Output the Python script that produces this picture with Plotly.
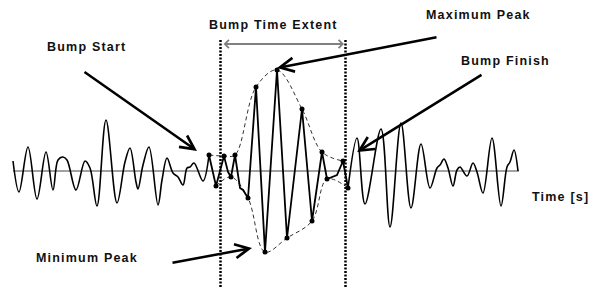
import plotly.graph_objects as go

# ---- data (sample index, amplitude) ----
left_t = [13, 19, 28, 37, 46, 53, 58, 63, 67, 76, 85, 90, 97, 106, 117, 125, 130, 136, 138, 143,
          149, 158, 162, 167, 173, 178, 183, 187, 190, 194, 203, 209]
left_a = [10, -21, 24, -28, 19, -19, 11, 14, 11, -19, 10, 3, -35, 51, -32, 9, 23, -11, -18, 6,
          24, -34, -9, 13, -2, -6, -14, 3, 4, 8, -10, 16]

bump_t = [209, 216, 224, 228, 231, 235, 240, 243, 248, 256, 265, 277, 287, 302, 312, 322, 327, 337, 343, 348]
bump_a = [16, -15, 15, -1, -6, 16, -17, -19, -27, 84, -81, 101, -67, 62, -50, 19, -8, -4, 10, -17]

right_t = [348, 357, 365, 381, 390, 401, 411, 421, 430, 437, 440, 444, 448, 453, 457, 460, 467, 473,
           477, 483, 492, 501, 507, 510, 514, 518]
right_a = [-17, 33, -33, 42, -56, 48, -37, 27, -17, 3, 6, 12, 3, -15, 1, 4, -5, 8,
           -1, -22, 33, -35, 4, 9, 21, 0]

marker_t = [209, 216, 224, 231, 235, 248, 256, 265, 277, 287, 302, 312, 322, 327, 343, 348]
marker_a = [16, -15, 15, -6, 16, -27, 84, -81, 101, -67, 62, -50, 19, -8, 10, -17]

upper_env_t = [209, 224, 235, 256, 277, 302, 322, 343]
upper_env_a = [16, 15, 16, 84, 101, 62, 19, 10]
lower_env_t = [216, 231, 248, 265, 287, 312, 327, 348]
lower_env_a = [-15, -6, -27, -81, -67, -50, -8, -17]

axis_t = [13, 519]
bump_start_t = 220.5
bump_finish_t = 345.5

FONT = "Liberation Sans, Arial, sans-serif"

fig = go.Figure()

# time axis line
fig.add_trace(go.Scatter(x=axis_t, y=[0, 0], mode="lines",
                         line=dict(color="#444444", width=1.2), hoverinfo="skip"))

# envelopes
fig.add_trace(go.Scatter(x=upper_env_t, y=upper_env_a, mode="lines",
                         line=dict(color="#333333", width=1, dash="4px,3px", shape="spline"),
                         hoverinfo="skip"))
fig.add_trace(go.Scatter(x=lower_env_t, y=lower_env_a, mode="lines",
                         line=dict(color="#333333", width=1, dash="4px,3px", shape="spline"),
                         hoverinfo="skip"))

# waveform
fig.add_trace(go.Scatter(x=left_t, y=left_a, mode="lines",
                         line=dict(color="black", width=1.6, shape="spline", smoothing=1.0),
                         hoverinfo="skip"))
fig.add_trace(go.Scatter(x=bump_t, y=bump_a, mode="lines",
                         line=dict(color="black", width=1.8), hoverinfo="skip"))
fig.add_trace(go.Scatter(x=right_t, y=right_a, mode="lines",
                         line=dict(color="black", width=1.6, shape="spline", smoothing=1.0),
                         hoverinfo="skip"))

# peak markers
fig.add_trace(go.Scatter(x=marker_t, y=marker_a, mode="markers",
                         marker=dict(color="black", size=5), hoverinfo="skip"))

# dotted bump boundaries
for xv in (bump_start_t, bump_finish_t):
    fig.add_trace(go.Scatter(x=[xv, xv], y=[131, -117], mode="lines",
                             line=dict(color="black", width=2.5, dash="2px,1.5px"),
                             hoverinfo="skip"))

anns = []
# bump time extent arrow (double-headed, gray)
anns.append(dict(x=bump_finish_t - 1.5, y=127, ax=bump_start_t + 1.5, ay=127,
                 xref="x", yref="y", axref="x", ayref="y", text="",
                 showarrow=True, arrowhead=4, startarrowhead=4, arrowside="end+start",
                 arrowsize=0.8, startarrowsize=0.8, arrowwidth=2, arrowcolor="#808080"))

# pointer arrows (tip, tail)
arrows = [((197, 20), (83, 100)),
          ((277, 103), (438, 134)),
          ((357, 19), (483, 97)),
          ((252, -77), (171, -92))]
for (tx, ty), (sx, sy) in arrows:
    anns.append(dict(x=tx, y=ty, ax=sx, ay=sy, xref="x", yref="y", axref="x", ayref="y",
                     text="", showarrow=True, arrowhead=5, arrowsize=1.1,
                     arrowwidth=2.5, arrowcolor="black"))

labels = [("Bump Time Extent", 273, 146),
          ("Bump Start", 86, 124),
          ("Maximum Peak", 478, 156),
          ("Bump Finish", 505, 110),
          ("Minimum Peak", 87, -87),
          ("Time [s]", 560, -26)]
for txt, lx, ly in labels:
    anns.append(dict(x=lx, y=ly, xref="x", yref="y", showarrow=False,
                     text='<span style="letter-spacing:1.2px"><b>' + txt + '</b></span>',
                     font=dict(family=FONT, size=12.5, color="#111111"),
                     xanchor="center", yanchor="middle"))

fig.update_layout(
    width=593, height=288,
    margin=dict(l=0, r=0, t=0, b=0),
    paper_bgcolor="white", plot_bgcolor="white",
    showlegend=False,
    xaxis=dict(range=[0, 593], visible=False, fixedrange=True),
    yaxis=dict(range=[-117, 171], visible=False, fixedrange=True),
    annotations=anns,
)

fig.write_html("out.html", config={"displayModeBar": False},
               post_script="document.body.style.margin='0';document.body.style.overflow='hidden';")
